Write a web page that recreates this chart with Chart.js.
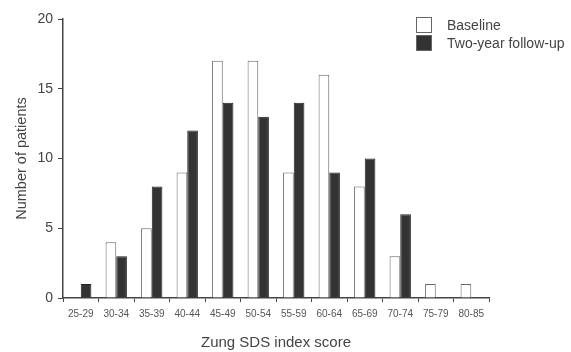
<!DOCTYPE html>
<html lang="en">
<head>
  <meta charset="UTF-8">
  <script src="https://cdn.jsdelivr.net/npm/chart.js"></script>
  <title>Zung SDS</title>
  <style>
    body{ margin:0; background:#fff; }
    #wrap{ position:relative; width:571px; height:352px; }
    #legend{
      position:absolute; left:416px; top:16px;
      font-family:Arial, "Liberation Sans", sans-serif; font-size:14px; color:#444;
    }
    #legend div{ height:18px; line-height:18px; white-space:nowrap; }
    #legend span{
      display:inline-block; width:16px; height:16px; vertical-align:-3px;
      border:1px solid #666; margin-right:15px; box-sizing:border-box;
    }
  </style>
</head>
<body>
  <div id="wrap">
    <canvas id="myChart" width="571" height="352"></canvas>
    <div id="legend">
      <div><span style="background:#fff"></span>Baseline</div>
      <div><span style="background:#333"></span>Two-year follow-up</div>
    </div>
  </div>
  <script>
    var scoreBins = ['25-29','30-34','35-39','40-44','45-49','50-54','55-59','60-64','65-69','70-74','75-79','80-85'];
    var baseline = [0, 4, 5, 9, 17, 17, 9, 16, 8, 3, 1, 1];
    var followUp = [1, 3, 8, 12, 14, 13, 14, 9, 10, 6, 0, 0];
    var yTicks = [0, 5, 10, 15, 20];

    var font = "Arial, 'Liberation Sans', sans-serif";

    new Chart(document.getElementById('myChart'), {
      type: 'bar',
      data: {
        labels: scoreBins,
        datasets: [{
          label: 'Baseline',
          data: baseline,
          backgroundColor: '#ffffff',
          borderColor: '#666',
          borderWidth: 1,
          barPercentage: 1,
          categoryPercentage: 0.6
        },{
          label: 'Two-year follow-up',
          data: followUp,
          backgroundColor: '#333',
          borderColor: '#222',
          borderWidth: 1,
          barPercentage: 1,
          categoryPercentage: 0.6
        }]
      },
      options: {
        responsive: false,
        animation: false,
        layout: { padding: { left: 0, right: 82, top: 19, bottom: 0 } },
        plugins: { legend: { display: false }, tooltip: { enabled: false } },
        scales: {
          x: {
            grid: { drawOnChartArea: false, drawTicks: true, tickLength: 4, color: '#444', offset: true },
            border: { color: '#444', width: 1.5 },
            ticks: { color: '#555', font: { family: font, size: 10 }, maxRotation: 0, padding: 6 },
            title: { display: true, text: 'Zung SDS index score', color: '#444', font: { family: font, size: 15 }, padding: { top: 17, bottom: 0 } },
            afterFit: function(s){ s.height = 54; }
          },
          y: {
            min: 0, max: 20,
            afterBuildTicks: function(s){ s.ticks = yTicks.map(function(v){ return { value: v }; }); },
            grid: { drawOnChartArea: false, drawTicks: true, tickLength: 5, color: '#444' },
            border: { color: '#444', width: 1.5 },
            ticks: { color: '#444', font: { family: font, size: 14 }, padding: 5 },
            title: { display: true, text: 'Number of patients', color: '#444', font: { family: font, size: 14.5 }, padding: { top: 13, bottom: 4 } },
            afterFit: function(s){ s.width = 63; }
          }
        }
      }
    });
  </script>
</body>
</html>
